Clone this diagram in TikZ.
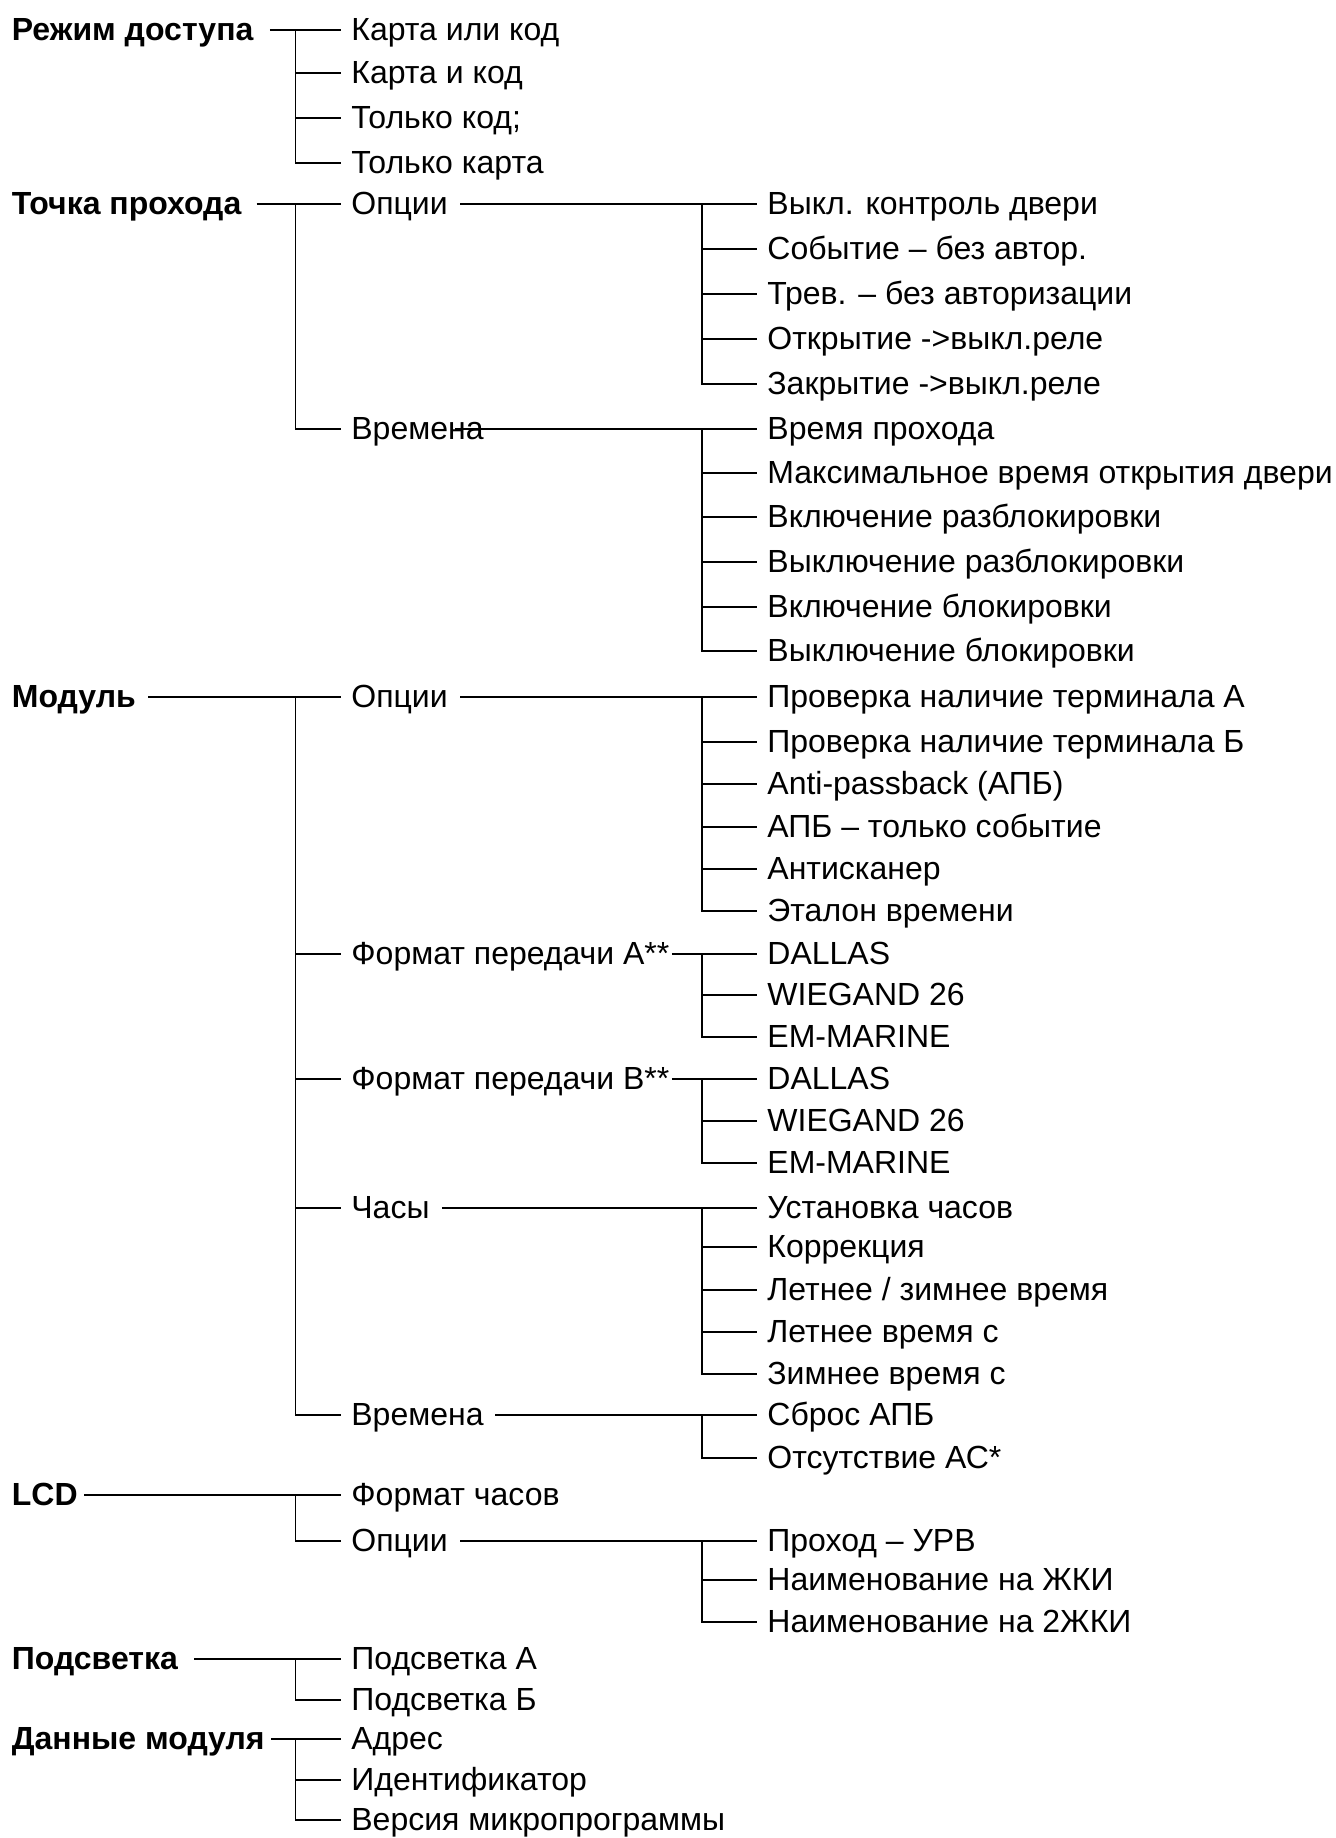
\documentclass[tikz,border=0pt]{standalone}
\usepackage{fontspec}
\setmainfont{Liberation Sans}

\begin{document}
\begin{tikzpicture}[
    x=0.5pt, y=-0.5pt,
    root/.style={
        anchor=west,
        inner sep=0pt,
        text height=10.3pt,
        text depth=0pt,
        font=\fontsize{16}{19}\selectfont\bfseries
    },
    item/.style={
        anchor=west,
        inner ysep=0pt,
        inner xsep=5pt,
        text height=10.3pt,
        text depth=0pt,
        font=\fontsize{16}{19}\selectfont
    },
    link/.style={line width=0.9pt}
]
\useasboundingbox (0,0) rectangle (1336,1838);

% Roots
\node[root] (mode)   at (11.5,30)   {Режим доступа};
\node[root] (door)   at (11.5,204)  {Точка прохода};
\node[root] (module) at (11.5,697)  {Модуль};
\node[root] (lcd)    at (11.5,1495) {LCD};
\node[root] (light)  at (11.5,1659) {Подсветка};
\node[root] (data)   at (11.5,1739) {Данные модуля};

% Level 1
\node[item] (mode1) at (341,30)  {Карта или код};
\node[item] (mode2) at (341,73)  {Карта и код};
\node[item] (mode3) at (341,118) {Только код;};
\node[item] (mode4) at (341,163) {Только карта};

\node[item] (doorOpt)  at (341,204) {Опции};
\node[item] (doorTime) at (341,429) {Времена};

\node[item] (modOpt)   at (341,697)  {Опции};
\node[item] (modFmtA)  at (341,954)  {Формат передачи А**};
\node[item] (modFmtB)  at (341,1079) {Формат передачи В**};
\node[item] (modClock) at (341,1208) {Часы};
\node[item] (modTime)  at (341,1415) {Времена};

\node[item] (lcdFmt) at (341,1495) {Формат часов};
\node[item] (lcdOpt) at (341,1541) {Опции};

\node[item] (light1) at (341,1659) {Подсветка А};
\node[item] (light2) at (341,1700) {Подсветка Б};

\node[item] (data1) at (341,1739) {Адрес};
\node[item] (data2) at (341,1780) {Идентификатор};
\node[item] (data3) at (341,1820) {Версия микропрограммы};

% Level 2
\node[item] (doorOpt1) at (757,204) {Выкл. контроль двери};
\node[item] (doorOpt2) at (757,249) {Событие – без автор.};
\node[item] (doorOpt3) at (757,294) {Трев. – без авторизации};
\node[item] (doorOpt4) at (757,339) {Открытие ->выкл.реле};
\node[item] (doorOpt5) at (757,384) {Закрытие ->выкл.реле};

\node[item] (doorTime1) at (757,429) {Время прохода};
\node[item] (doorTime2) at (757,473) {Максимальное время открытия двери};
\node[item] (doorTime3) at (757,517) {Включение разблокировки};
\node[item] (doorTime4) at (757,562) {Выключение разблокировки};
\node[item] (doorTime5) at (757,607) {Включение блокировки};
\node[item] (doorTime6) at (757,651) {Выключение блокировки};

\node[item] (modOpt1) at (757,697) {Проверка наличие терминала А};
\node[item] (modOpt2) at (757,742) {Проверка наличие терминала Б};
\node[item] (modOpt3) at (757,784) {Anti-passback (АПБ)};
\node[item] (modOpt4) at (757,827) {АПБ – только событие};
\node[item] (modOpt5) at (757,869) {Антисканер};
\node[item] (modOpt6) at (757,911) {Эталон времени};

\node[item] (modFmtA1) at (757,954)  {DALLAS};
\node[item] (modFmtA2) at (757,995)  {WIEGAND 26};
\node[item] (modFmtA3) at (757,1037) {EM-MARINE};

\node[item] (modFmtB1) at (757,1079) {DALLAS};
\node[item] (modFmtB2) at (757,1121) {WIEGAND 26};
\node[item] (modFmtB3) at (757,1163) {EM-MARINE};

\node[item] (modClock1) at (757,1208) {Установка часов};
\node[item] (modClock2) at (757,1247) {Коррекция};
\node[item] (modClock3) at (757,1290) {Летнее / зимнее время};
\node[item] (modClock4) at (757,1332) {Летнее время с};
\node[item] (modClock5) at (757,1374) {Зимнее время с};

\node[item] (modTime1) at (757,1415) {Сброс АПБ};
\node[item] (modTime2) at (757,1458) {Отсутствие АС*};

\node[item] (lcdOpt1) at (757,1541) {Проход – УРВ};
\node[item] (lcdOpt2) at (757,1580) {Наименование на ЖКИ};
\node[item] (lcdOpt3) at (757,1622) {Наименование на 2ЖКИ};

% Branch points
\coordinate (tMode)   at (295.5,30);
\coordinate (tDoor)   at (295.5,204);
\coordinate (tModule) at (295.5,697);
\coordinate (tLcd)    at (295.5,1495);
\coordinate (tLight)  at (295.5,1659);
\coordinate (tData)   at (295.5,1739);

\coordinate (tDoorOpt)  at (702,204);
\coordinate (tDoorTime) at (702,429);
\coordinate (tModOpt)   at (702,697);
\coordinate (tModFmtA)  at (702,954);
\coordinate (tModFmtB)  at (702,1079);
\coordinate (tModClock) at (702,1208);
\coordinate (tModTime)  at (702,1415);
\coordinate (tLcdOpt)   at (702,1541);

% Lines from roots
\draw[link] ([xshift=8pt]mode.east) -- (mode1.west);
\draw[link] ([xshift=7.5pt]door.east) -- (doorOpt.west);
\draw[link] ([xshift=6pt]module.east) -- (modOpt.west);
\draw[link] ([xshift=3pt]lcd.east) -- (lcdFmt.west);
\draw[link] ([xshift=8pt]light.east) -- (light1.west);
\draw[link] ([xshift=3pt]data.east) -- (data1.west);

\foreach \c in {mode2,mode3,mode4} \draw[link] (tMode) |- (\c.west);
\draw[link] (tDoor) |- (doorTime.west);
\foreach \c in {modFmtA,modFmtB,modClock,modTime} \draw[link] (tModule) |- (\c.west);
\draw[link] (tLcd) |- (lcdOpt.west);
\draw[link] (tLight) |- (light2.west);
\foreach \c in {data2,data3} \draw[link] (tData) |- (\c.west);

% Lines from level 1
\draw[link] ([xshift=1pt]doorOpt.east) -- (doorOpt1.west);
\draw[link] ([xshift=-19.5pt]doorTime.east) -- (doorTime1.west);
\draw[link] ([xshift=1pt]modOpt.east) -- (modOpt1.west);
\draw[link] ([xshift=-4pt]modFmtA.east) -- (modFmtA1.west);
\draw[link] ([xshift=-4pt]modFmtB.east) -- (modFmtB1.west);
\draw[link] ([xshift=1pt]modClock.east) -- (modClock1.west);
\draw[link] ([xshift=0.5pt]modTime.east) -- (modTime1.west);
\draw[link] ([xshift=1pt]lcdOpt.east) -- (lcdOpt1.west);

\foreach \c in {2,...,5} \draw[link] (tDoorOpt) |- (doorOpt\c.west);
\foreach \c in {2,...,6} \draw[link] (tDoorTime) |- (doorTime\c.west);
\foreach \c in {2,...,6} \draw[link] (tModOpt) |- (modOpt\c.west);
\foreach \c in {2,3} \draw[link] (tModFmtA) |- (modFmtA\c.west);
\foreach \c in {2,3} \draw[link] (tModFmtB) |- (modFmtB\c.west);
\foreach \c in {2,...,5} \draw[link] (tModClock) |- (modClock\c.west);
\draw[link] (tModTime) |- (modTime2.west);
\foreach \c in {2,3} \draw[link] (tLcdOpt) |- (lcdOpt\c.west);

\end{tikzpicture}
\end{document}
